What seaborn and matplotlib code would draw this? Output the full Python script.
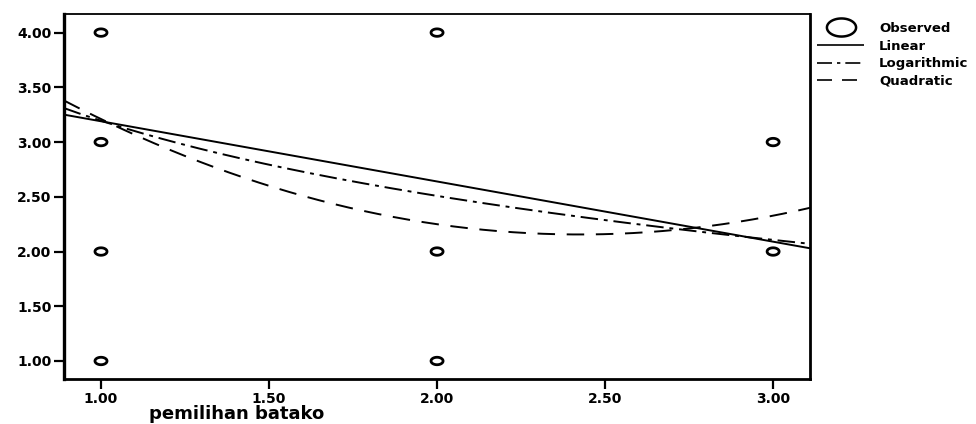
import numpy as np
import pandas as pd
import matplotlib
matplotlib.use("Agg")
import matplotlib.pyplot as plt
from matplotlib.lines import Line2D
from matplotlib.path import Path
import seaborn as sns

# Observed responses
obs_x = [1, 1, 1, 1, 2, 2, 2, 3, 3]
obs_y = [4, 3, 2, 1, 4, 2, 1, 3, 2]

# Fitted curve coefficients
linear_coef = [3.74, -0.55]              # a + b*x
log_coef = [3.195, -0.991]               # a + b*ln(x)
quad_coef = [5.210, -2.519, 0.5194]      # a + b*x + c*x^2

x_ticks = [1.00, 1.50, 2.00, 2.50, 3.00]
y_ticks = [1.00, 1.50, 2.00, 2.50, 3.00, 3.50, 4.00]
x_range = [0.89, 3.11]
y_range = [0.835, 4.17]

sns.set_theme(style="white")
plt.rcParams["font.family"] = ["DejaVu Sans"]
plt.rcParams["font.weight"] = "bold"
plt.rcParams["text.color"] = "black"
plt.rcParams["xtick.color"] = "black"
plt.rcParams["ytick.color"] = "black"
plt.rcParams["axes.labelcolor"] = "black"

# flattened ring used for the observed markers
theta = np.linspace(0, 2 * np.pi, 60)
ellipse = Path(np.column_stack([np.cos(theta), 0.62 * np.sin(theta)]), closed=True)

fig = plt.figure(figsize=(9.76, 4.24), dpi=100)
ax = fig.add_axes([0.0656, 0.106, 0.7644, 0.861])

xs = np.linspace(x_range[0], x_range[1], 300)
curves = pd.DataFrame({
    "x": np.concatenate([xs, xs, xs]),
    "y": np.concatenate([
        linear_coef[0] + linear_coef[1] * xs,
        log_coef[0] + log_coef[1] * np.log(xs),
        quad_coef[0] + quad_coef[1] * xs + quad_coef[2] * xs ** 2,
    ]),
    "fit": ["Linear"] * len(xs) + ["Logarithmic"] * len(xs) + ["Quadratic"] * len(xs),
})

styles = {
    "Linear": (0, ()),
    "Logarithmic": (0, (9, 3, 2, 3)),
    "Quadratic": (0, (9, 6)),
}
for name, sub in curves.groupby("fit"):
    sns.lineplot(data=sub, x="x", y="y", ax=ax, color="black", lw=1.4,
                 linestyle=styles[name], legend=False)

sns.scatterplot(x=obs_x, y=obs_y, ax=ax, marker=ellipse, s=75,
                facecolor="none", edgecolor="black", linewidth=2.0, legend=False)

ax.set_xlim(*x_range)
ax.set_ylim(*y_range)
ax.set_xticks(x_ticks)
ax.set_yticks(y_ticks)
ax.set_xticklabels([f"{v:.2f}" for v in x_ticks], fontsize=10, fontweight="bold")
ax.set_yticklabels([f"{v:.2f}" for v in y_ticks], fontsize=10, fontweight="bold")
ax.tick_params(axis="both", direction="out", length=7, width=1.6,
               left=True, bottom=True, pad=2)
ax.set_xlabel("pemilihan batako", fontsize=13, fontweight="bold")
ax.xaxis.set_label_coords(0.232, -0.07)
ax.set_ylabel("")

for side, w in {"left": 2.4, "bottom": 2.0, "top": 1.3, "right": 2.0}.items():
    ax.spines[side].set_visible(True)
    ax.spines[side].set_color("black")
    ax.spines[side].set_linewidth(w)

handles = [
    Line2D([], [], marker=ellipse, linestyle="none", markersize=21,
           markerfacecolor="none", markeredgecolor="black", markeredgewidth=1.8),
    Line2D([], [], color="black", lw=1.2, linestyle=styles["Linear"]),
    Line2D([], [], color="black", lw=1.2, linestyle=styles["Logarithmic"]),
    Line2D([], [], color="black", lw=1.2, linestyle=styles["Quadratic"]),
]
fig.legend(handles, ["Observed", "Linear", "Logarithmic", "Quadratic"],
           loc="upper left", bbox_to_anchor=(0.837, 0.948), frameon=False,
           prop={"size": 9.5, "weight": "bold"}, handlelength=3.6,
           handletextpad=1.1, labelspacing=0.35, borderaxespad=0, borderpad=0)

fig.savefig("out.png", dpi=100)
